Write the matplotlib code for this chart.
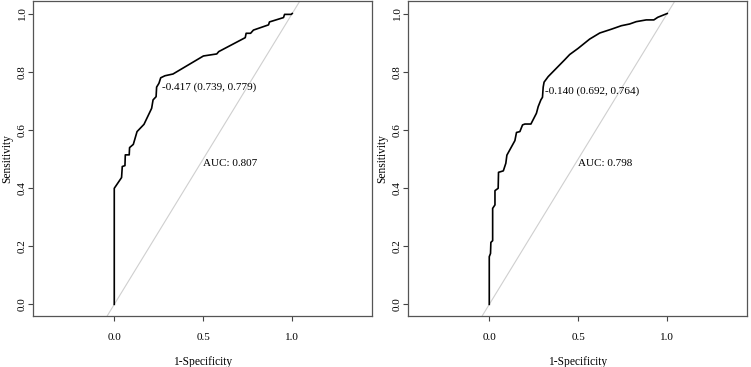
import matplotlib
matplotlib.use("Agg")
import matplotlib.pyplot as plt
import numpy as np

plt.rcParams['font.family'] = ['Liberation Serif', 'DejaVu Serif']

# Left panel ROC (1-specificity, sensitivity)
fpr_a = [0.0, 0.0, 0.041, 0.045, 0.060, 0.062, 0.084, 0.086, 0.107, 0.128, 0.167,
         0.210, 0.218, 0.235, 0.238, 0.251, 0.261, 0.285, 0.330, 0.501, 0.576,
         0.587, 0.736, 0.741, 0.766, 0.782, 0.867, 0.872, 0.951, 0.957, 0.994, 1.0]
tpr_a = [0.0, 0.399, 0.436, 0.474, 0.477, 0.514, 0.514, 0.539, 0.550, 0.594, 0.619,
         0.674, 0.703, 0.714, 0.747, 0.760, 0.779, 0.786, 0.792, 0.854, 0.861,
         0.869, 0.917, 0.932, 0.932, 0.943, 0.961, 0.971, 0.986, 0.997, 0.997, 1.0]
thr_a = (0.261, 0.779)
thr_label_a = "-0.417 (0.739, 0.779)"
auc_a = "AUC: 0.807"

# Right panel ROC
fpr_b = [0.0, 0.0, 0.007, 0.009, 0.019, 0.019, 0.032, 0.032, 0.050, 0.052, 0.079,
         0.093, 0.099, 0.144, 0.153, 0.172, 0.187, 0.200, 0.234, 0.265, 0.275,
         0.290, 0.299, 0.303, 0.308, 0.331, 0.424, 0.452, 0.499, 0.564, 0.621,
         0.686, 0.742, 0.789, 0.826, 0.882, 0.925, 0.947, 1.0]
tpr_b = [0.0, 0.164, 0.175, 0.213, 0.219, 0.330, 0.342, 0.391, 0.399, 0.454, 0.459,
         0.485, 0.513, 0.563, 0.591, 0.594, 0.617, 0.620, 0.620, 0.657, 0.680,
         0.703, 0.712, 0.747, 0.764, 0.783, 0.841, 0.859, 0.880, 0.912, 0.933,
         0.946, 0.958, 0.964, 0.972, 0.978, 0.978, 0.987, 1.0]
thr_b = (0.308, 0.764)
thr_label_b = "-0.140 (0.692, 0.764)"
auc_b = "AUC: 0.798"

x_ticks = [0.0, 0.5, 1.0]
y_ticks = [0.0, 0.2, 0.4, 0.6, 0.8, 1.0]

W, H = 751, 367
fig = plt.figure(figsize=(W / 100, H / 100), dpi=100)

panels = [
    (33.3, 372.3, fpr_a, tpr_a, thr_a, thr_label_a, auc_a),
    (408.3, 747.3, fpr_b, tpr_b, thr_b, thr_label_b, auc_b),
]
top_px, bot_px = 1.0, 316.0
for lpx, rpx, fx, ty, thr, thr_lab, auc_lab in panels:
    ax = fig.add_axes([lpx / W, 1 - bot_px / H, (rpx - lpx) / W, (bot_px - top_px) / H])
    ax.set_xlim(-0.455, 1.45)
    ax.set_ylim(-0.04, 1.043)
    ax.plot([-1, 2], [-1, 2], color='#cfcfcf', lw=0.8, zorder=1)
    ax.plot(fx, ty, color='black', lw=1.2, zorder=3)
    ax.text(thr[0] + 0.007, thr[1] - 0.032, thr_lab, fontsize=8.0, va='center', ha='left')
    ax.text(0.5, 0.5, auc_lab, fontsize=8.0, va='top', ha='left')
    ax.set_xticks(x_ticks)
    ax.set_xticklabels([f"{v:.1f}" for v in x_ticks])
    ax.set_yticks(y_ticks)
    ax.set_yticklabels([f"{v:.1f}" for v in y_ticks], rotation=90, va='center')
    ax.tick_params(axis='both', direction='out', length=3.6, width=0.8, color='#444444',
                   labelsize=8.0)
    ax.tick_params(axis='x', pad=9)
    ax.tick_params(axis='y', pad=1.2)
    for s in ax.spines.values():
        s.set_color('#555555')
        s.set_linewidth(0.9)
    ax.set_xlabel("1-Specificity", fontsize=8.3, labelpad=9.5)
    ax.set_ylabel("Sensitivity", fontsize=8.3, labelpad=3.5)

fig.savefig("out.png", dpi=100)
